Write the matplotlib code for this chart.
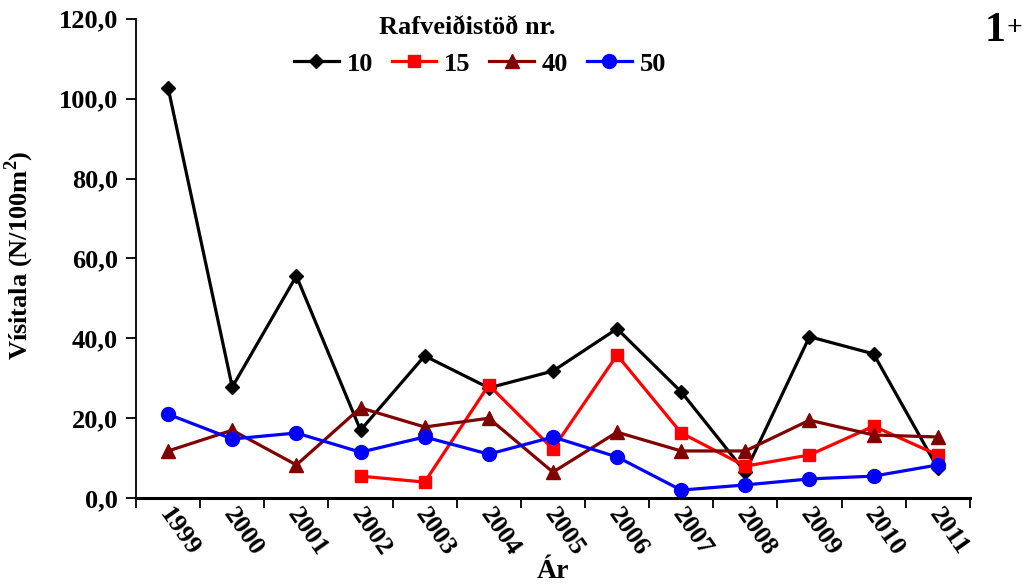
import matplotlib.pyplot as plt
import numpy as np
from matplotlib.ticker import FuncFormatter
from matplotlib.transforms import ScaledTranslation

years = ["1999", "2000", "2001", "2002", "2003", "2004", "2005",
         "2006", "2007", "2008", "2009", "2010", "2011"]
st10 = [102.7, 27.8, 55.6, 17.0, 35.6, 27.6, 31.8, 42.4, 26.6, 6.5, 40.4, 36.1, 7.5]
st15 = [np.nan, np.nan, np.nan, 5.5, 4.0, 28.3, 12.3, 35.8, 16.3, 8.0, 10.8, 18.0, 10.8]
st40 = [11.8, 17.0, 8.3, 22.6, 17.8, 20.0, 6.5, 16.5, 11.8, 11.8, 19.5, 15.8, 15.3]
st50 = [21.0, 14.8, 16.3, 11.5, 15.3, 11.0, 15.3, 10.3, 2.0, 3.3, 4.8, 5.5, 8.3]

plt.rcParams['font.family'] = ['Liberation Serif', 'DejaVu Serif']
plt.rcParams['font.weight'] = 'bold'
plt.rcParams['mathtext.fontset'] = 'custom'
plt.rcParams['mathtext.bf'] = 'Liberation Serif:bold'
plt.rcParams['mathtext.rm'] = 'Liberation Serif:bold'

fig = plt.figure(figsize=(10.23, 5.86), dpi=100)
ax = fig.add_axes([0.133, 0.150, 0.815, 0.818])

x = np.arange(len(years))
ax.plot(x, st10, color='black', marker='D', markersize=7, lw=2.3, label='10')
ax.plot(x, st15, color='red', marker='s', markersize=9, lw=2.3, label='15')
ax.plot(x, st40, color='#800000', marker='^', markersize=10, lw=2.3, label='40')
ax.plot(x, st50, color='blue', marker='o', markersize=10, lw=2.3, label='50')

ax.set_xlim(-0.5, len(years) - 0.5)
ax.set_ylim(0, 120)
ax.set_yticks(np.arange(0, 121, 20))
ax.yaxis.set_major_formatter(FuncFormatter(lambda v, p: f"{v:.1f}".replace('.', ',')))

ax.set_xticks(x)
ax.set_xticklabels(years, rotation=-55, ha='left', va='center', rotation_mode='anchor')
ax.set_xticks(np.arange(-0.5, len(years)), minor=True)
ax.tick_params(axis='x', which='major', length=0, pad=9)
ax.tick_params(axis='x', which='minor', length=7, width=1.3, direction='out')
ax.tick_params(axis='y', length=7, width=1.3, direction='out', pad=6)
for lab in ax.get_xticklabels():
    lab.set_transform(lab.get_transform() + ScaledTranslation(-0.04, 0, fig.dpi_scale_trans))

for lab in ax.get_xticklabels() + ax.get_yticklabels():
    lab.set_fontsize(19)
    lab.set_fontweight('bold')

ax.spines['top'].set_visible(False)
ax.spines['right'].set_visible(False)
ax.spines['left'].set_linewidth(1.3)
ax.spines['bottom'].set_linewidth(2.2)

ax.set_ylabel('Vísitala (N/100m$^{2}$)', fontsize=19, fontweight='bold')
ax.yaxis.set_label_coords(-0.12, 0.507)
ax.set_xlabel('Ár', fontsize=20, fontweight='bold')
ax.xaxis.set_label_coords(0.5, -0.128)

fig.text(467 / 1023, 1 - 28 / 586, 'Rafveiðistöð nr.', fontsize=19, fontweight='bold',
         ha='center', va='center')
leg = ax.legend(loc='center', bbox_to_anchor=(480 / 1023, 1 - 64 / 586),
                bbox_transform=fig.transFigure, ncol=4, frameon=False,
                fontsize=19, handlelength=1.7, columnspacing=0.7, handletextpad=0.3,
                borderpad=0.2)
for t in leg.get_texts():
    t.set_fontweight('bold')

fig.text(0.962, 0.93, '1', fontsize=30, fontweight='bold', ha='left')
fig.text(0.984, 0.94, '+', fontsize=20, fontweight='bold', ha='left')

fig.savefig('out.png', dpi=100)
